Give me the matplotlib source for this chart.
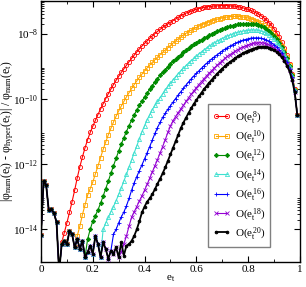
import numpy as np
import matplotlib
matplotlib.use('Agg')
import matplotlib.pyplot as plt
from matplotlib.ticker import FixedLocator, LogFormatterMathtext, MultipleLocator

plt.rcParams['font.family'] = ['Liberation Serif', 'DejaVu Serif']
plt.rcParams['mathtext.fontset'] = 'custom'
plt.rcParams['mathtext.rm'] = 'Liberation Serif'
plt.rcParams['mathtext.it'] = 'Liberation Serif:italic'
plt.rcParams['font.size'] = 8

# e_t grid (step 0.01), values below are log10 of the relative error
e_t = np.round(np.arange(100) * 0.01, 2)

# round-off floor shared by all orders, e_t = 0.00 .. 0.34
noise_log = [-14.17, -12.52, -12.65, -13.42, -13.38, -13.5, -13.78, -15.3, -14.45, -14.35,
             -14.45, -14.05, -14.15, -14.55, -14.3, -14.6, -14.35, -14.85, -14.7, -14.5,
             -14.75, -14.2, -14.45, -14.85, -14.4, -14.6, -14.9, -14.65, -14.75, -14.55,
             -14.85, -14.4, -14.8, -14.5, -14.45]

# O(e^8), from e_t = 0.08
o8_log = [-14.4, -14.1,
          -13.8, -13.48, -13.15, -12.8, -12.42, -12.08, -11.78, -11.5, -11.25, -11.03,
          -10.84, -10.66, -10.48, -10.31, -10.15, -9.99, -9.84, -9.7, -9.56, -9.43,
          -9.31, -9.19, -9.08, -8.97, -8.86, -8.76, -8.66, -8.56, -8.47, -8.38,
          -8.3, -8.22, -8.14, -8.07, -8.0, -7.93, -7.87, -7.81, -7.75, -7.7,
          -7.65, -7.6, -7.55, -7.5, -7.45, -7.41, -7.37, -7.34, -7.31, -7.28,
          -7.25, -7.23, -7.21, -7.19, -7.18, -7.17, -7.16, -7.15, -7.15, -7.14,
          -7.14, -7.14, -7.14, -7.15, -7.15, -7.16, -7.17, -7.19, -7.21, -7.23,
          -7.26, -7.29, -7.32, -7.36, -7.4, -7.45, -7.51, -7.58, -7.66, -7.75,
          -7.85, -7.97, -8.1, -8.26, -8.45, -8.67, -8.93, -9.25, -9.7, -10.5]

# O(e^10), from e_t = 0.14
o10_log = [-14.2, -13.9, -13.55, -13.25, -12.95, -12.75,
           -12.55, -12.3, -12.06, -11.8, -11.55, -11.32, -11.1, -10.9, -10.71, -10.53,
           -10.37, -10.22, -10.08, -9.94, -9.81, -9.68, -9.56, -9.45, -9.34, -9.24,
           -9.14, -9.05, -8.96, -8.88, -8.8, -8.72, -8.64, -8.57, -8.5, -8.43,
           -8.36, -8.29, -8.22, -8.16, -8.1, -8.04, -7.99, -7.94, -7.89, -7.85,
           -7.81, -7.77, -7.73, -7.7, -7.67, -7.64, -7.61, -7.58, -7.56, -7.54,
           -7.52, -7.5, -7.49, -7.48, -7.47, -7.47, -7.47, -7.48, -7.49, -7.5,
           -7.52, -7.54, -7.57, -7.6, -7.64, -7.68, -7.73, -7.79, -7.86, -7.94,
           -8.03, -8.13, -8.25, -8.38, -8.54, -8.73, -8.96, -9.27, -9.72, -10.5]

# O(e^12), from e_t = 0.18
o12_log = [-14.3, -14.0,
           -13.75, -13.58, -13.4, -13.2, -12.98, -12.75, -12.52, -12.28, -12.05, -11.82,
           -11.6, -11.39, -11.19, -11.0, -10.82, -10.65, -10.49, -10.34, -10.2, -10.07,
           -9.94, -9.82, -9.7, -9.59, -9.48, -9.38, -9.28, -9.19, -9.1, -9.01,
           -8.93, -8.85, -8.78, -8.71, -8.64, -8.57, -8.51, -8.45, -8.39, -8.33,
           -8.28, -8.23, -8.18, -8.13, -8.09, -8.05, -8.01, -7.97, -7.93, -7.9,
           -7.87, -7.84, -7.81, -7.78, -7.76, -7.74, -7.72, -7.71, -7.7, -7.69,
           -7.69, -7.69, -7.7, -7.72, -7.74, -7.77, -7.81, -7.86, -7.92, -7.99,
           -8.07, -8.17, -8.28, -8.41, -8.57, -8.75, -8.98, -9.28, -9.72, -10.5]

# O(e^14), from e_t = 0.24
o14_log = [-14.0, -13.8, -13.63, -13.46, -13.3, -13.12,
           -12.93, -12.73, -12.52, -12.31, -12.09, -11.87, -11.65, -11.44, -11.22, -11.01,
           -10.82, -10.64, -10.48, -10.33, -10.2, -10.08, -9.96, -9.84, -9.73, -9.62,
           -9.52, -9.42, -9.32, -9.23, -9.14, -9.06, -8.98, -8.9, -8.83, -8.76,
           -8.69, -8.62, -8.56, -8.5, -8.44, -8.38, -8.33, -8.28, -8.23, -8.19,
           -8.15, -8.11, -8.07, -8.04, -8.01, -7.98, -7.96, -7.94, -7.92, -7.91,
           -7.9, -7.89, -7.89, -7.89, -7.9, -7.92, -7.95, -7.99, -8.04, -8.1,
           -8.17, -8.26, -8.36, -8.48, -8.62, -8.8, -9.02, -9.3, -9.74, -10.5]

# O(e^16), from e_t = 0.28
o16_log = [-14.15, -14.0,
           -13.8, -13.62, -13.47, -13.28, -13.05, -12.8, -12.57, -12.38, -12.2, -12.02,
           -11.84, -11.65, -11.46, -11.26, -11.06, -10.88, -10.72, -10.57, -10.44, -10.32,
           -10.21, -10.1, -9.99, -9.88, -9.78, -9.68, -9.58, -9.48, -9.39, -9.3,
           -9.22, -9.14, -9.06, -8.98, -8.91, -8.84, -8.77, -8.71, -8.65, -8.59,
           -8.53, -8.48, -8.43, -8.38, -8.34, -8.3, -8.26, -8.23, -8.2, -8.18,
           -8.16, -8.14, -8.13, -8.13, -8.13, -8.14, -8.16, -8.19, -8.23, -8.28,
           -8.34, -8.41, -8.5, -8.6, -8.73, -8.88, -9.07, -9.34, -9.76, -10.5]

# O(e^18), from e_t = 0.31
o18_log = [-14.7, -14.45, -14.2, -13.9, -13.63, -13.46, -13.3, -13.13, -12.97,
           -12.8, -12.62, -12.43, -12.24, -12.05, -11.86, -11.66, -11.46, -11.25, -11.03,
           -10.83, -10.67, -10.54, -10.42, -10.31, -10.2, -10.08, -9.97, -9.86, -9.76,
           -9.66, -9.56, -9.47, -9.38, -9.29, -9.21, -9.13, -9.05, -8.97, -8.9,
           -8.83, -8.76, -8.7, -8.64, -8.59, -8.54, -8.49, -8.45, -8.41, -8.38,
           -8.35, -8.32, -8.3, -8.29, -8.28, -8.28, -8.29, -8.31, -8.34, -8.38,
           -8.43, -8.49, -8.57, -8.67, -8.79, -8.94, -9.12, -9.38, -9.78, -10.5]

# O(e^20), from e_t = 0.35
o20_log = [-14.35, -14.2, -14.0, -13.75, -13.48,
           -13.3, -13.15, -13.05, -12.92, -12.77, -12.6, -12.45, -12.28, -12.1, -11.9,
           -11.7, -11.5, -11.3, -11.1, -10.9, -10.73, -10.58, -10.43, -10.29, -10.16,
           -10.04, -9.92, -9.81, -9.7, -9.6, -9.5, -9.41, -9.32, -9.23, -9.15,
           -9.07, -9.0, -8.93, -8.87, -8.81, -8.75, -8.7, -8.65, -8.6, -8.56,
           -8.52, -8.49, -8.46, -8.44, -8.42, -8.41, -8.4, -8.41, -8.43, -8.46,
           -8.5, -8.56, -8.63, -8.72, -8.84, -8.98, -9.16, -9.42, -9.8, -10.5]

orders = ['8', '10', '12', '14', '16', '18', '20']
series = [o8_log, o10_log, o12_log, o14_log, o16_log, o18_log, o20_log]
colors = ['#ff0000', '#ffa500', '#008b00', '#40e0d0', '#0000ff', '#9400d3', '#000000']
markers = ['o', 's', 'D', '^', '+', 'x', 'o']
msizes = [3.0, 2.7, 2.2, 3.0, 3.2, 2.6, 2.0]

fig = plt.figure(figsize=(3.06, 2.87), dpi=100)
ax = fig.add_axes([0.134, 0.087, 0.846, 0.9095])

for order, vals, col, mk, ms in zip(orders, series, colors, markers, msizes):
    start = len(e_t) - len(vals)
    y = 10.0 ** np.array(noise_log[:start] + vals)
    filled = mk == 'D' or col == '#000000'
    ax.plot(e_t, y, color=col, marker=mk, markersize=ms,
            markerfacecolor=col if filled else 'none', markeredgewidth=0.6,
            lw=1.3 if col == '#000000' else 0.8,
            label=r'O(e$_\mathrm{t}^{\,%s}$)' % order)

ax.set_yscale('log')
ax.set_xlim(0, 1)
ax.set_ylim(1e-15, 1e-7)

ax.yaxis.set_major_locator(FixedLocator([1e-14, 1e-12, 1e-10, 1e-8]))
ax.yaxis.set_major_formatter(LogFormatterMathtext())
minor = [k * 10.0 ** p for p in (-14, -12, -10, -8) for k in range(2, 10)]
ax.yaxis.set_minor_locator(FixedLocator(minor))
ax.yaxis.set_minor_formatter(plt.NullFormatter())
ax.set_xticks([0, 0.2, 0.4, 0.6, 0.8, 1.0])
ax.set_xticklabels(['0', '0.2', '0.4', '0.6', '0.8', '1'])
ax.xaxis.set_minor_locator(MultipleLocator(0.1))

ax.tick_params(which='both', direction='in', top=True, right=True, labelsize=8)
ax.tick_params(axis='x', pad=2)
ax.tick_params(axis='y', pad=2)
ax.tick_params(which='major', length=4, width=0.8)
ax.tick_params(which='minor', length=2.2, width=0.6)
for sp in ax.spines.values():
    sp.set_linewidth(1.0)

ax.set_xlabel(r'e$_\mathrm{t}$', fontsize=8, labelpad=0)
ax.set_ylabel(r'|φ$_\mathrm{num}$(e$_\mathrm{t}$) - φ$_\mathrm{hyper}$(e$_\mathrm{t}$)| / φ$_\mathrm{num}$(e$_\mathrm{t}$)',
              fontsize=8.5)
ax.yaxis.set_label_coords(-0.098, 0.5)

leg = ax.legend(loc='upper left', bbox_to_anchor=(0.645, 0.605), numpoints=2,
                handlelength=1.6, handletextpad=0.35, labelspacing=0.25,
                borderpad=0.45, borderaxespad=0, fancybox=False, framealpha=1,
                fontsize=8)
leg.get_frame().set_edgecolor('#808080')
leg.get_frame().set_linewidth(1.0)

fig.savefig('out.png', dpi=100)
